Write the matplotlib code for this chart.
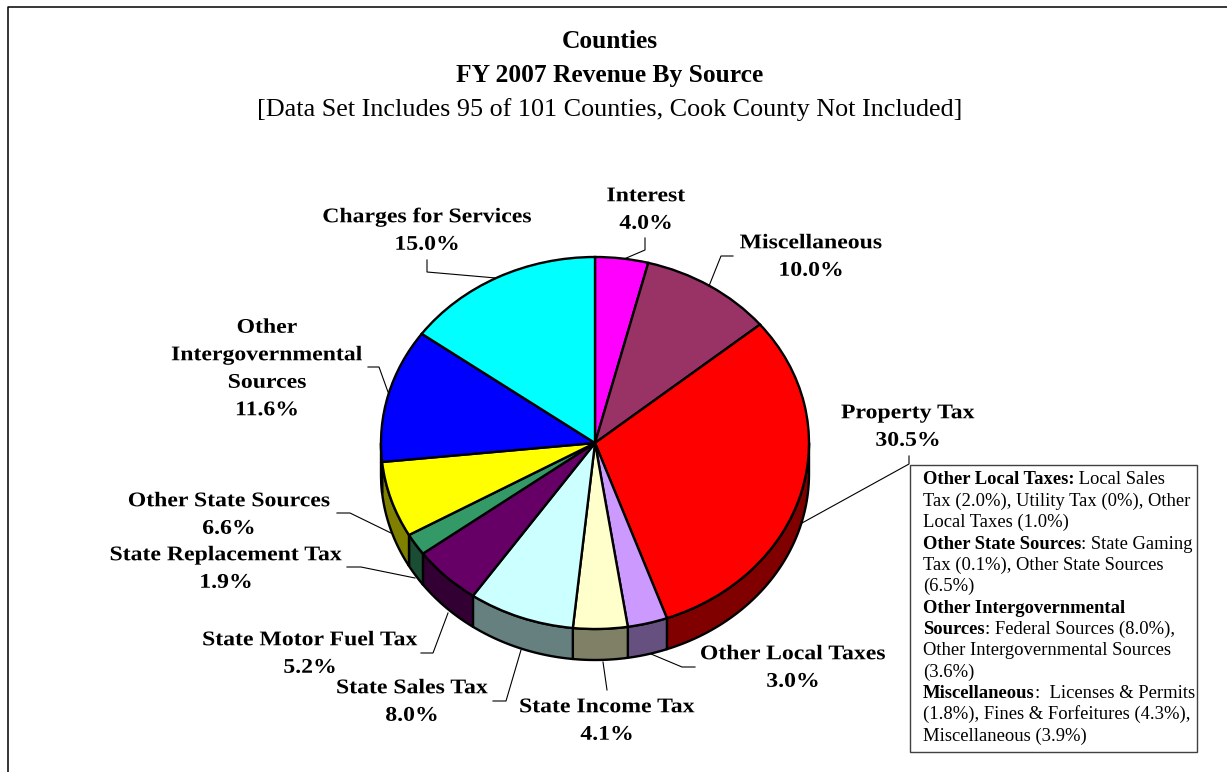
import numpy as np
import matplotlib
matplotlib.use('Agg')
import matplotlib.pyplot as plt
from matplotlib.patheffects import AbstractPathEffect
from matplotlib.transforms import Affine2D

plt.rcParams['font.family'] = ['Liberation Serif', 'DejaVu Serif']

sources = ['Interest', 'Miscellaneous', 'Property Tax', 'Other Local Taxes', 'State Income Tax',
           'State Sales Tax', 'State Motor Fuel Tax', 'State Replacement Tax', 'Other State Sources',
           'Other\nIntergovernmental\nSources', 'Charges for Services']
shares = [4.0, 10.0, 30.5, 3.0, 4.1, 8.0, 5.2, 1.9, 6.6, 11.6, 15.0]
top_colors = ['#FF00FF', '#993366', '#FF0000', '#CC99FF', '#FFFFCC', '#CCFFFF',
              '#660066', '#339966', '#FFFF00', '#0000FF', '#00FFFF']
side_colors = ['#800080', '#4D1A33', '#800000', '#665080', '#808066', '#668080',
               '#330033', '#1A4D33', '#808000', '#000080', '#008080']

# label centre positions in pixels, same order as sources
label_x = [646, 811, 908, 793, 607, 412, 310, 226, 229, 267, 427]
label_y = [210, 257, 427, 668, 721, 702, 654, 569, 515, 369, 231]

note_lines = [
    [('Other Local Taxes:', True), (' Local Sales', False)],
    [('Tax (2.0%), Utility Tax (0%), Other', False)],
    [('Local Taxes (1.0%)', False)],
    [('Other State Sources', True), (': State Gaming', False)],
    [('Tax (0.1%), Other State Sources', False)],
    [('(6.5%)', False)],
    [('Other Intergovernmental', True)],
    [('Sources', True), (': Federal Sources (8.0%),', False)],
    [('Other Intergovernmental Sources', False)],
    [('(3.6%)', False)],
    [('Miscellaneous', True), (':  Licenses & Permits', False)],
    [('(1.8%), Fines & Forfeitures (4.3%),', False)],
    [('Miscellaneous (3.9%)', False)],
]

W, H = 1227, 772
cx, cy, rx, ry, depth = 595, 443, 214, 186, 31


# the original labels are letter spaced, widen them around their centre
class WideText(AbstractPathEffect):
    def __init__(self, x0, factor):
        super().__init__()
        self.x0 = x0
        self.factor = factor

    def draw_path(self, renderer, gc, tpath, affine, rgbFace=None):
        wide = affine + Affine2D().translate(-self.x0, 0).scale(self.factor, 1).translate(self.x0, 0)
        renderer.draw_path(gc, tpath, wide, rgbFace)


fig = plt.figure(figsize=(W / 100, H / 100), dpi=100, facecolor='white')
ax = fig.add_axes([0, 0, 1, 1])
ax.set_xlim(0, W)
ax.set_ylim(H, 0)
ax.axis('off')

# frame: only left and top edges are in the picture
ax.plot([8, 8, W], [H, 7, 7], color='black', lw=1.1)

ax.text(609.5, 41.5, 'Counties', ha='center', va='center', fontsize=18.4, fontweight='bold')
ax.text(609.5, 75.5, 'FY 2007 Revenue By Source', ha='center', va='center', fontsize=18.4, fontweight='bold')
ax.text(610, 109.5, '[Data Set Includes 95 of 101 Counties, Cook County Not Included]',
        ha='center', va='center', fontsize=18.8)

# pie gets its own axes so it can be squashed into an ellipse
pie_ax = fig.add_axes([(cx - rx) / W, 1 - (cy + ry) / H, 2 * rx / W, 2 * ry / H])
pie_ax.patch.set_alpha(0)

# rim of the tilted pie
edges = np.concatenate([[0], np.cumsum(shares)]) / sum(shares) * 360
drop = depth / ry
for i in range(len(shares)):
    a0, a1 = max(edges[i], 90), min(edges[i + 1], 270)
    if a1 <= a0:
        continue
    t = np.radians(np.linspace(a0, a1, 60))
    xs = np.sin(t)
    ys = np.cos(t)
    pie_ax.fill(np.r_[xs, xs[::-1]], np.r_[ys, ys[::-1] - drop], facecolor=side_colors[i],
                edgecolor='black', lw=1.7, clip_on=False, zorder=1, joinstyle='round')

wedges, _ = pie_ax.pie(shares, colors=top_colors, startangle=90, counterclock=False, radius=1,
                       wedgeprops=dict(edgecolor='black', linewidth=1.7))
for w in wedges:
    w.set_zorder(2)
    w.set_clip_on(False)
pie_ax.set_aspect('auto')
pie_ax.set_xlim(-1, 1)
pie_ax.set_ylim(-1, 1)
pie_ax.axis('off')

ax2 = fig.add_axes([0, 0, 1, 1])
ax2.set_xlim(0, W)
ax2.set_ylim(H, 0)
ax2.axis('off')
ax2.patch.set_alpha(0)

# slice labels
for name, share, x, y in zip(sources, shares, label_x, label_y):
    ax2.text(x, y, '%s\n%.1f%%' % (name, share), ha='center', va='center', fontsize=15,
             fontweight='bold', linespacing=1.5, path_effects=[WideText(x, 1.14)])

# leader lines
leaders = [
    [(645, 238), (645, 250), (624, 259)],
    [(733, 256), (721, 256), (709, 286)],
    [(427, 260), (427, 272), (496, 278)],
    [(368, 367), (379, 367), (388, 392)],
    [(909, 456), (909, 464), (802, 523)],
    [(695, 667), (682, 667), (651, 654)],
    [(603, 662), (607, 690)],
    [(493, 701), (506, 701), (521, 650)],
    [(421, 653), (433, 653), (448, 613)],
    [(347, 567), (361, 567), (415, 578)],
    [(337, 513), (350, 513), (391, 533)],
]
for pts in leaders:
    ax2.plot([p[0] for p in pts], [p[1] for p in pts], color='black', lw=0.8)

# note box
ax2.fill([910, 1197, 1197, 910], [465, 465, 752, 752], facecolor='white', edgecolor='#404040', lw=1.0, zorder=3)
fig.canvas.draw()
rend = fig.canvas.get_renderer()
for n, parts in enumerate(note_lines):
    x = 923
    y = 484.5 + n * 21.35
    for s, bold in parts:
        t = ax2.text(x, y, s, ha='left', va='baseline', fontsize=13.4,
                     fontweight='bold' if bold else 'normal', zorder=4)
        x += t.get_window_extent(rend).width

fig.savefig('out.png', dpi=100, facecolor='white')
